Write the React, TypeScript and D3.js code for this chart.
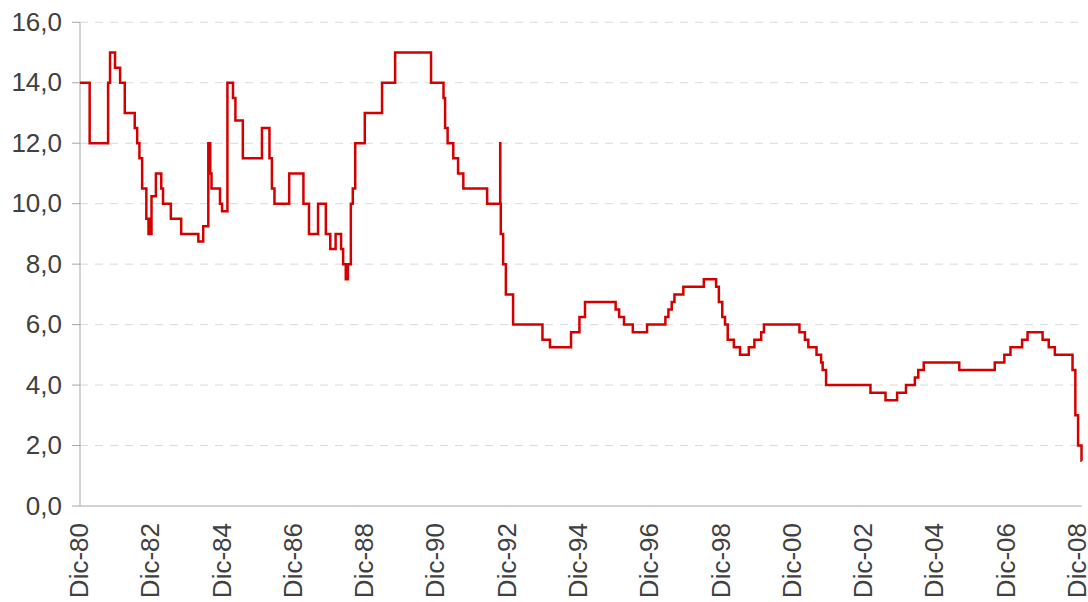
import * as d3 from "d3";

// step changes (date the rate took effect, rate %)
const changeDates = [
  "1980-12-01", "1981-03-10", "1981-09-15", "1981-10-05", "1981-11-25", "1982-01-16",
  "1982-03-05", "1982-06-15", "1982-07-10", "1982-08-02", "1982-08-30", "1982-10-12",
  "1982-11-03", "1982-11-13", "1982-11-21", "1982-12-04", "1983-01-18", "1983-03-14",
  "1983-04-01", "1983-06-20", "1983-10-04", "1984-03-28", "1984-05-17", "1984-07-08",
  "1984-07-28", "1984-08-10", "1984-11-05", "1984-11-26", "1985-01-20", "1985-03-18",
  "1985-04-12", "1985-06-27", "1986-01-09", "1986-03-27", "1986-04-21", "1986-05-17",
  "1986-10-15", "1987-03-10", "1987-05-06", "1987-08-07", "1987-10-26", "1987-12-10",
  "1988-02-03", "1988-03-30", "1988-04-20", "1988-05-17", "1988-06-08", "1988-07-08",
  "1988-07-28", "1988-08-22", "1988-11-28", "1989-05-24", "1989-10-05", "1990-10-08",
  "1991-02-13", "1991-03-01", "1991-03-27", "1991-05-24", "1991-07-12", "1991-09-04",
  "1992-05-05", "1992-09-16", "1992-09-17", "1992-09-22", "1992-10-16", "1992-11-13",
  "1993-01-26", "1993-11-23", "1994-02-08", "1994-09-12", "1994-12-07", "1995-02-02",
  "1995-12-13", "1996-01-18", "1996-03-08", "1996-06-06", "1996-10-30", "1997-05-06",
  "1997-06-06", "1997-07-10", "1997-08-07", "1997-11-06", "1998-06-04", "1998-10-08",
  "1998-11-05", "1998-12-10", "1999-01-07", "1999-02-04", "1999-04-08", "1999-06-10",
  "1999-09-08", "1999-11-04", "2000-01-13", "2000-02-10", "2001-02-08", "2001-04-05",
  "2001-05-10", "2001-08-02", "2001-09-18", "2001-10-04", "2001-11-08", "2003-02-06",
  "2003-07-10", "2003-11-06", "2004-02-05", "2004-05-06", "2004-06-10", "2004-08-05",
  "2005-08-04", "2006-08-03", "2006-11-09", "2007-01-11", "2007-05-10", "2007-07-05",
  "2007-12-06", "2008-02-07", "2008-04-10", "2008-10-08", "2008-11-06", "2008-12-04",
  "2009-01-08", "2009-01-10",
];

const rates = [
  14, 12, 14, 15, 14.5, 14,
  13, 12.5, 12, 11.5, 10.5, 9.5,
  9, 9.5, 9, 10.25, 11, 10.5,
  10, 9.5, 9, 8.75, 9.25, 12,
  11, 10.5, 10, 9.75, 14, 13.5,
  12.75, 11.5, 12.5, 11.5, 10.5, 10,
  11, 10, 9, 10, 9, 8.5,
  9, 8.5, 8, 7.5, 8, 10,
  10.5, 12, 13, 14, 15, 14,
  13.5, 12.5, 12, 11.5, 11, 10.5,
  10, 12, 10, 9, 8, 7,
  6, 5.5, 5.25, 5.75, 6.25, 6.75,
  6.5, 6.25, 6, 5.75, 6, 6.25,
  6.5, 6.75, 7, 7.25, 7.5, 7.25,
  6.75, 6.25, 6, 5.5, 5.25, 5,
  5.25, 5.5, 5.75, 6, 5.75, 5.5,
  5.25, 5, 4.75, 4.5, 4, 3.75,
  3.5, 3.75, 4, 4.25, 4.5, 4.75,
  4.5, 4.75, 5, 5.25, 5.5, 5.75,
  5.5, 5.25, 5, 4.5, 3, 2,
  1.5, 1.5,
];

const yTicks = [0, 2, 4, 6, 8, 10, 12, 14, 16];
const xTickYears = [1980, 1982, 1984, 1986, 1988, 1990, 1992, 1994, 1996, 1998, 2000, 2002, 2004, 2006, 2008];
const xTickLabels = ["Dic-80", "Dic-82", "Dic-84", "Dic-86", "Dic-88", "Dic-90", "Dic-92", "Dic-94",
  "Dic-96", "Dic-98", "Dic-00", "Dic-02", "Dic-04", "Dic-06", "Dic-08"];

const W = 1088;
const H = 602;
const left = 80;
const right = 1081.7;
const top = 22.3;
const bottom = 506;
const font = "'Liberation Sans', Arial, sans-serif";
const textColor = "#404040";

export default function App() {
  const parse = d3.utcParse("%Y-%m-%d");
  const data = changeDates.map((d, i) => ({ date: parse(d)!, value: rates[i] }));

  const x = d3
    .scaleUtc()
    .domain([parse("1980-12-01")!, parse("2009-01-10")!])
    .range([left, right]);
  const y = d3.scaleLinear().domain([0, 16]).range([bottom, top]);

  const line = d3
    .line<{ date: Date; value: number }>()
    .x((d) => x(d.date))
    .y((d) => y(d.value))
    .curve(d3.curveStepAfter);

  const fmt = (v: number) => v.toFixed(1).replace(".", ",");

  return (
    <svg
      width={W}
      height={H}
      style={{ position: "absolute", left: 0, top: 0, background: "#fff" }}
    >
      {/* grid */}
      {yTicks
        .filter((t) => t > 0)
        .map((t) => (
          <line
            key={"g" + t}
            x1={left}
            x2={right}
            y1={y(t)}
            y2={y(t)}
            stroke="#d9d9d9"
            strokeWidth={1}
            strokeDasharray="8,7"
          />
        ))}

      {/* y axis */}
      <line x1={left} x2={left} y1={top} y2={bottom} stroke="#a6a6a6" strokeWidth={1} />
      {yTicks.map((t) => (
        <g key={"y" + t}>
          <line x1={left - 8} x2={left} y1={y(t)} y2={y(t)} stroke="#a6a6a6" strokeWidth={1} />
          <text
            x={62}
            y={y(t)}
            dy="0.33em"
            textAnchor="end"
            fontFamily={font}
            fontSize={26}
            fill={textColor}
          >
            {fmt(t)}
          </text>
        </g>
      ))}

      {/* x axis */}
      <line x1={left} x2={right} y1={bottom} y2={bottom} stroke="#a6a6a6" strokeWidth={1} />
      {xTickYears.map((yr, i) => (
        <text
          key={"x" + yr}
          transform={`translate(${x(Date.UTC(yr, 11, 1)) - 1},523) rotate(-90)`}
          dy="0.35em"
          textAnchor="end"
          fontFamily={font}
          fontSize={26}
          fill={textColor}
        >
          {xTickLabels[i]}
        </text>
      ))}

      {/* series */}
      <path d={line(data) ?? ""} fill="none" stroke="#d40000" strokeWidth={2.5} />
    </svg>
  );
}
